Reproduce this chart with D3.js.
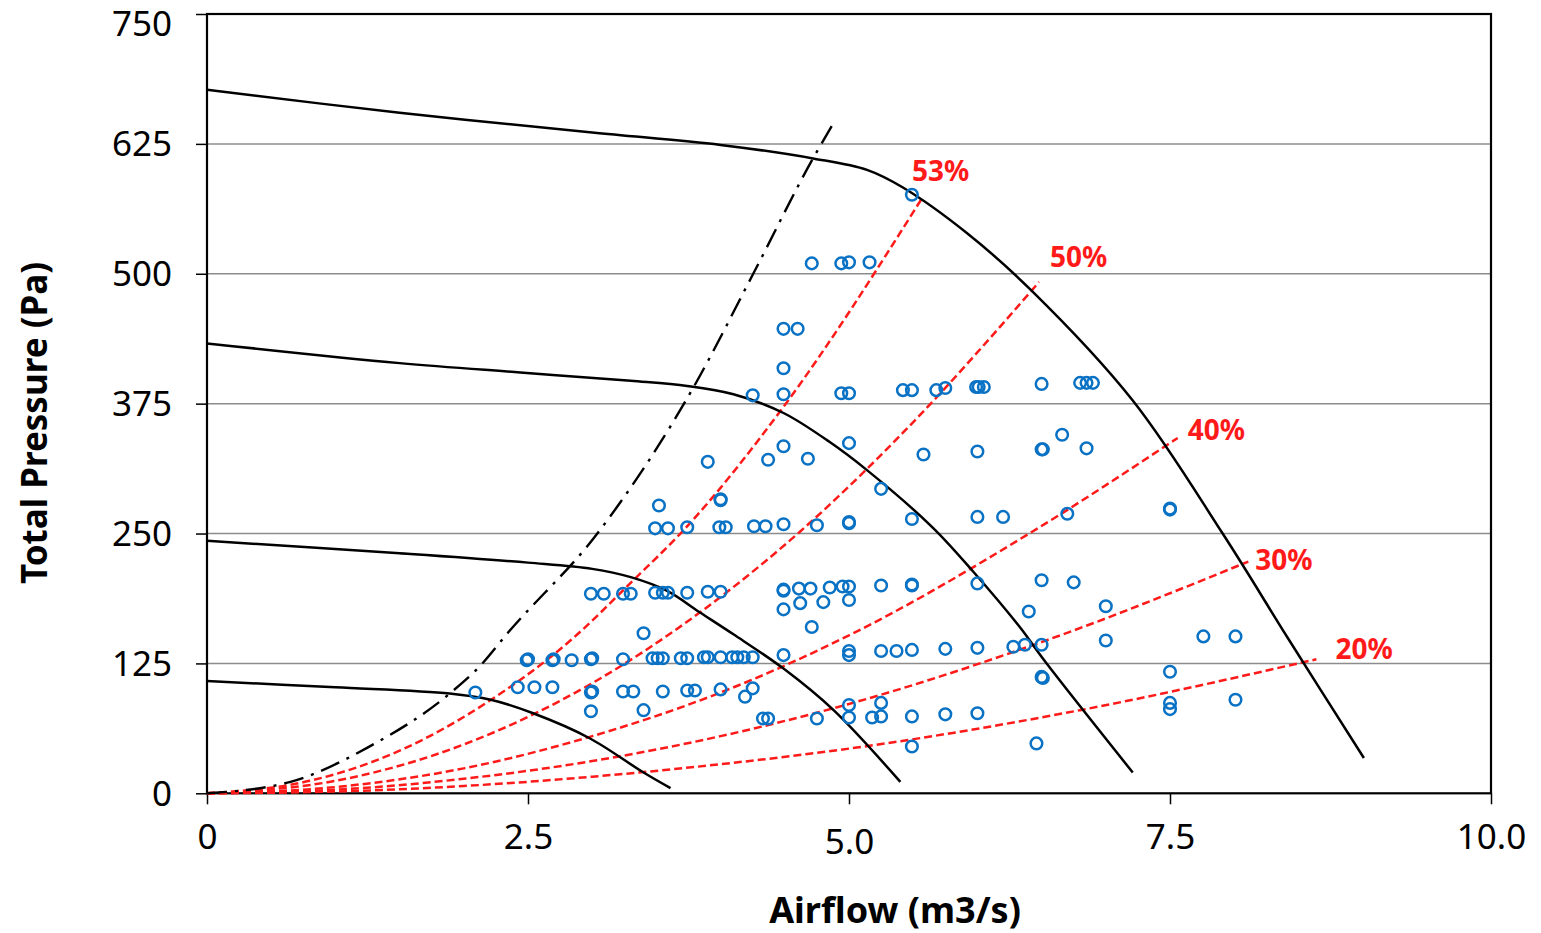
<!DOCTYPE html>
<html><head><meta charset="utf-8">
<script src="https://cdn.jsdelivr.net/npm/d3@7"></script>
<style>
html,body{margin:0;padding:0;background:#fff;}
svg{display:block;}
text{font-family:"Noto Sans","Open Sans",sans-serif;}
</style></head>
<body>
<svg id="chart" width="1541" height="933"></svg>
<script>
// ---- data ----
const yTicks = [0, 125, 250, 375, 500, 625, 750];
const xTicks = [0, 2.5, 5, 7.5, 10];
const xTickLabels = ["0", "2.5", "5.0", "7.5", "10.0"];

// fan curves (airflow, pressure)
const fanCurve1 = [[0,677],[1.5,655],[3,636],[4,624],[4.72,611],[5.14,600],[5.42,583],[5.92,539],[6.42,484],[7.21,378],[7.91,250],[8.42,149],[9.01,34]];
const fanCurve2 = [[0,433],[1.5,414],[2.44,405],[3.3,397],[3.74,392],[4.1,384],[4.49,366],[4.85,338],[5.14,311],[5.65,256],[5.97,213],[6.33,160],[6.52,128],[7.21,20]];
const fanCurve3 = [[0,243],[1.5,231],[2.5,222],[3.0,216],[3.3,208],[3.58,195],[3.84,174],[4.10,153],[4.49,120],[4.88,80],[5.40,11]];
const fanCurve4 = [[0,108],[1,102],[1.89,96],[2.21,90],[2.54,77],[2.98,53],[3.40,20],[3.61,5]];

// surge (dash-dot) line
const surgeLine = [[0,0],[0.65,11],[1.25,44],[1.89,96],[2.13,123],[2.34,154],[3.04,250],[3.79,391],[4.25,499],[4.72,611],[4.87,643]];

// efficiency lines
const effLabels = ["53%", "50%", "40%", "30%", "20%"];
const eff53 = [[0,0],[0.8,12],[1.5,41],[2.2,89],[2.83,147],[3.32,205],[3.71,253],[4.49,372],[5.56,571]];
const eff50 = [[0,0],[1,12],[2,47],[3,106],[3.86,176],[4.62,252],[5.42,347],[6.48,492]];
const eff40 = [[0,0],[1,6],[2,24],[3,55],[4,97],[5,152],[6.43,252],[7.56,342]];
const eff30 = [[0,0],[1,3.4],[2,14],[3,31],[4,55],[5,86],[6.51,146],[8.11,223]];
const eff20 = [[0,0],[1,1.7],[2,7],[3,16],[4,28],[5,43],[6.8,80],[8.64,129]];

// measured points
const airflow = [5.49,4.71,4.94,5.00,5.16,4.49,4.60,4.49,4.25,4.49,4.94,5.00,5.42,5.49,5.68,5.75,5.99,6.01,6.05,6.50,6.80,6.85,6.90,
  4.49,3.90,4.37,4.68,5.00,5.58,6.00,6.66,6.50,6.51,6.85,
  3.52,4.00,4.00,5.25,7.50,7.50,6.70,
  3.49,3.59,3.74,3.99,4.04,4.26,4.35,4.49,4.75,5.00,5.00,5.49,6.00,6.20,
  2.99,3.09,3.24,3.30,3.49,3.55,3.59,3.74,3.90,4.00,4.49,4.49,4.61,4.70,4.85,4.95,5.00,5.25,5.49,5.49,6.00,6.50,6.75,
  4.62,4.80,5.00,4.49,4.71,3.40,6.40,7.00,
  5.00,5.00,5.25,5.37,5.49,5.75,6.00,6.28,6.37,6.50,7.00,7.76,8.01,
  2.49,2.50,2.69,2.70,2.84,2.99,3.00,3.24,3.47,3.51,3.55,3.69,3.74,3.87,3.90,4.00,4.09,4.13,4.18,4.25,4.49,
  2.09,2.42,2.55,2.69,2.99,3.00,3.24,3.32,3.55,3.74,3.80,4.00,4.25,4.19,6.50,6.51,7.50,
  2.99,3.40,4.33,4.37,4.75,5.00,5.00,5.18,5.25,5.25,5.49,5.75,6.00,7.50,7.50,8.01,6.46,5.49];
const pressure = [576,510,510,511,511,447,447,409,383,384,385,385,388,388,388,390,391,391,391,394,395,395,395,
  334,319,321,322,337,326,329,345,331,331,332,
  277,282,283,293,274,273,269,
  255,255,256,256,256,257,257,259,258,260,261,264,266,266,
  192,192,192,192,193,193,193,193,194,194,196,195,197,197,198,199,199,200,200,201,202,205,203,
  183,184,186,177,160,154,175,180,
  137,133,137,137,138,139,140,141,143,143,147,151,151,
  128,129,128,129,128,129,130,129,130,130,130,130,130,131,131,131,131,131,131,131,133,
  97,102,102,102,97,98,98,98,98,99,99,100,101,93,112,111,117,
  79,80,72,72,72,73,85,73,74,87,74,76,77,87,81,90,48,45];

// ---- drawing ----
const svg = d3.select("#chart");
svg.append("rect").attr("width",1541).attr("height",933).attr("fill","#fff");

const x = d3.scaleLinear().domain([0,10]).range([207,1491]);
const y = d3.scaleLinear().domain([0,750]).range([793.3,14]);

// gridlines
svg.append("g").selectAll("line").data(yTicks.filter(d=>d>0 && d<750)).join("line")
  .attr("x1", x(0)).attr("x2", x(10)).attr("y1", d=>y(d)).attr("y2", d=>y(d))
  .attr("stroke","#8c8c8c").attr("stroke-width",1.5);

// y axis
const yAxis = svg.append("g").attr("transform",`translate(${x(0)},0)`)
  .call(d3.axisLeft(y).tickValues(yTicks).tickSize(11).tickPadding(24).tickFormat(d3.format("d")));
yAxis.select(".domain").remove();
yAxis.selectAll("line").attr("stroke","#000").attr("stroke-width",1.5);
yAxis.selectAll("text").attr("font-size",35).attr("fill","#000")
  .attr("font-family","'Noto Sans',sans-serif")
  .attr("dy", d => d===750 ? "0.62em" : "0.34em");

// x axis
const xAxis = svg.append("g").attr("transform",`translate(0,${y(0)})`)
  .call(d3.axisBottom(x).tickValues(xTicks).tickSize(11).tickPadding(20)
    .tickFormat((d,i)=>xTickLabels[i]));
xAxis.select(".domain").remove();
xAxis.selectAll("line").attr("stroke","#000").attr("stroke-width",1.5);
xAxis.selectAll("text").attr("font-size",35).attr("fill","#000")
  .attr("font-family","'Noto Sans',sans-serif")
  .attr("dy", d => d===5 ? "0.86em" : "0.71em");

// plot border
svg.append("rect").attr("x",x(0)).attr("y",y(750)).attr("width",x(10)-x(0)).attr("height",y(0)-y(750))
  .attr("fill","none").attr("stroke","#000").attr("stroke-width",2.2);

const line = d3.line().x(d=>x(d[0])).y(d=>y(d[1])).curve(d3.curveMonotoneX);
const smooth = d3.line().x(d=>x(d[0])).y(d=>y(d[1])).curve(d3.curveCatmullRom.alpha(0.5));

// efficiency lines
const effLines = [eff53, eff50, eff40, eff30, eff20];
svg.append("g").selectAll("path").data(effLines).join("path")
  .attr("d", line).attr("fill","none").attr("stroke","#ff1a1a")
  .attr("stroke-width",2.5).attr("stroke-dasharray","8,4");

// surge line
svg.append("path").datum(surgeLine).attr("d", line).attr("fill","none")
  .attr("stroke","#000").attr("stroke-width",2.4).attr("stroke-dasharray","20,8,3,8");

// fan curves
svg.append("g").selectAll("path").data([fanCurve1,fanCurve2,fanCurve3,fanCurve4]).join("path")
  .attr("d", smooth).attr("fill","none").attr("stroke","#000").attr("stroke-width",2.5);

// points
const pts = airflow.map((a,i)=>[a, pressure[i]]);
svg.append("g").selectAll("circle").data(pts).join("circle")
  .attr("cx", d=>x(d[0])).attr("cy", d=>y(d[1])).attr("r",5.8)
  .attr("fill","none").attr("stroke","#0a72c4").attr("stroke-width",2.5);

// efficiency labels near line ends
const labelOffsets = [[-9,-19],[11,-15],[10,2],[7,8],[19,0]];
svg.append("g").selectAll("text").data(effLines).join("text")
  .attr("x",(d,i)=>x(d[d.length-1][0]) + labelOffsets[i][0])
  .attr("y",(d,i)=>y(d[d.length-1][1]) + labelOffsets[i][1])
  .attr("fill","#ff1a1a").attr("font-weight","bold").attr("font-size",28)
  .text((d,i)=>effLabels[i]);

// axis titles
svg.append("text").attr("x",895).attr("y",923).attr("text-anchor","middle")
  .attr("font-weight","bold").attr("font-size",36).text("Airflow (m3/s)");
svg.append("text").attr("transform","translate(47,423) rotate(-90)").attr("text-anchor","middle")
  .attr("font-weight","bold").attr("font-size",35).text("Total Pressure (Pa)");
</script>
</body></html>
